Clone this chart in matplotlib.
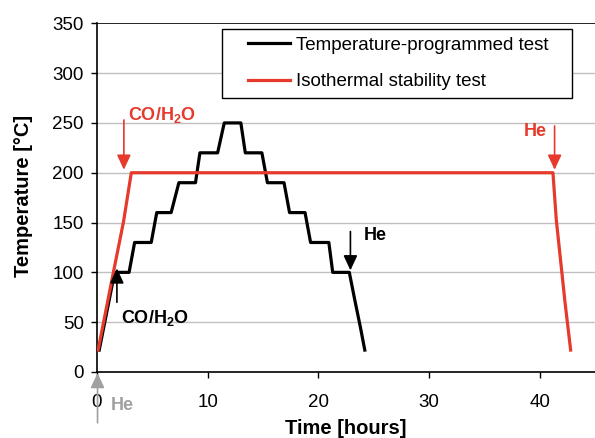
import matplotlib
matplotlib.use("Agg")
import matplotlib.pyplot as plt
from matplotlib.patches import Rectangle

plt.rcParams['font.family'] = ['Liberation Sans', 'DejaVu Sans']
plt.rcParams['mathtext.fontset'] = 'custom'
plt.rcParams['mathtext.rm'] = 'Liberation Sans'
plt.rcParams['mathtext.bf'] = 'Liberation Sans:bold'

# Temperature-programmed test (black)
tp_time = [0.2, 1.6, 2.9, 3.4, 4.9, 5.4, 6.7, 7.4, 8.9, 9.3, 10.9, 11.5, 13.0, 13.4,
           14.9, 15.4, 16.9, 17.4, 18.8, 19.3, 20.95, 21.3, 22.8, 23.3, 23.8, 24.2]
tp_temp = [22, 100, 100, 130, 130, 160, 160, 190, 190, 220, 220, 250, 250, 220,
           220, 190, 190, 160, 160, 130, 130, 100, 100, 72, 45, 22]

# Isothermal stability test (red)
iso_time = [0.1, 1.5, 2.4, 3.1, 41.2, 41.5, 42.3, 42.8]
iso_temp = [22, 101, 151, 200, 200, 153, 69, 22]

series_labels = ["Temperature-programmed test", "Isothermal stability test"]
x_ticks = [0, 10, 20, 30, 40]
y_ticks = [0, 50, 100, 150, 200, 250, 300, 350]

RED = '#E53A2C'
GRAY = '#A0A0A0'

fig = plt.figure(figsize=(5.95, 4.38), dpi=100)
ax = fig.add_axes([0.163, 0.1507, 0.837, 0.7961])

for y in y_ticks[1:-1]:
    ax.axhline(y, color='#C0C0C0', lw=1.0, zorder=0)
ax.axhline(350, color='black', lw=1.2, zorder=0)

ax.plot(tp_time, tp_temp, color='black', lw=2.3, label=series_labels[0], zorder=3)
ax.plot(iso_time, iso_temp, color=RED, lw=2.3, label=series_labels[1], zorder=4)

ax.set_xlim(0, 45)
ax.set_ylim(0, 350)
ax.set_xticks(x_ticks)
ax.set_yticks(y_ticks)
ax.tick_params(labelsize=13.5, length=4.5, width=1, direction='out')
ax.tick_params(axis='x', pad=11)
ax.tick_params(axis='y', pad=5)
for s in ['top', 'right']:
    ax.spines[s].set_visible(False)
ax.spines['left'].set_linewidth(1.2)
ax.spines['bottom'].set_linewidth(1.2)

ax.set_xlabel('Time [hours]', fontsize=14.5, fontweight='bold')
ax.set_ylabel('Temperature [°C]', fontsize=14.5, fontweight='bold')
ax.xaxis.set_label_coords(0.5, -0.135)
ax.yaxis.set_label_coords(-0.128, 0.505)

# legend frame drawn separately
ax.add_patch(Rectangle((0.251, 0.786), 0.703, 0.198, transform=ax.transAxes,
                       facecolor='white', edgecolor='black', lw=1.0, zorder=5,
                       clip_on=False))
leg = ax.legend(loc='upper left', bbox_to_anchor=(0.303, 0.962), fontsize=13.5,
                frameon=False, handlelength=2.25, handletextpad=0.3,
                labelspacing=1.05, borderpad=0, borderaxespad=0)
leg.set_zorder(6)

def arrow(x0, y0, x1, y1, color):
    ax.annotate('', xy=(x1, y1), xytext=(x0, y0),
                arrowprops=dict(arrowstyle='-|>,head_length=0.9,head_width=0.42',
                                color=color, lw=1.2, shrinkA=0, shrinkB=0),
                annotation_clip=False, zorder=7)

cow = r'CO/H$_\mathbf{2}$O'
ax.text(2.8, 258, cow, color=RED, fontsize=13, fontweight='bold', va='center', ha='left')
arrow(2.43, 253, 2.43, 203, RED)

ax.text(2.2, 54, cow, color='black', fontsize=13, fontweight='bold', va='center', ha='left')
arrow(1.8, 70, 1.8, 104, 'black')

ax.text(24.1, 137, 'He', color='black', fontsize=13, fontweight='bold', va='center', ha='left')
arrow(22.9, 141, 22.9, 102, 'black')

ax.text(38.6, 241, 'He', color=RED, fontsize=13, fontweight='bold', va='center', ha='left')
arrow(41.35, 247, 41.35, 203, RED)

ax.text(1.2, -34, 'He', color=GRAY, fontsize=13, fontweight='bold', va='center', ha='left',
        clip_on=False)
arrow(0.05, -51, 0.05, -1, GRAY)

fig.savefig('out.png', dpi=100)
